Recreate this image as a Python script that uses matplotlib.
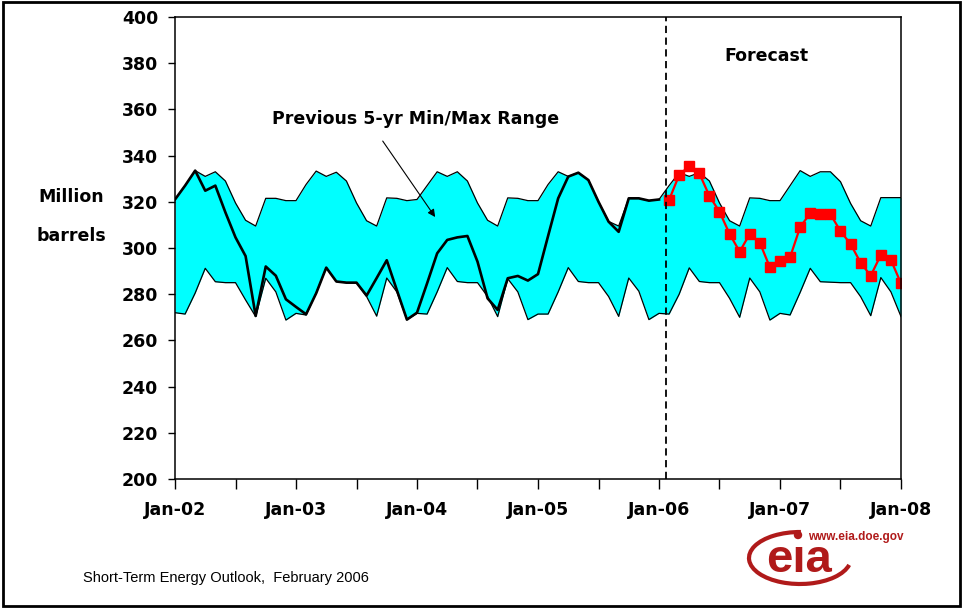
import numpy as np
import matplotlib
matplotlib.use("Agg")
import matplotlib.pyplot as plt
from matplotlib.patches import Arc, Circle, Rectangle

plt.rcParams['font.family'] = ['DejaVu Sans']

# month index 0 = Jan-02 ... 72 = Jan-08
months = np.arange(73)

# previous 5-yr max / min (million barrels)
range_max = [
    321, 327, 333.5, 331, 333, 329, 319.5, 312, 309.5, 321.5, 321.5, 320.5,
    320.5, 327.5, 333.3, 331, 332.8, 329, 319.5, 311.8, 309.5, 321.7, 321.5, 320.5,
    321, 327, 333, 331, 333, 329, 319.5, 312, 309.5, 321.7, 321.5, 320.5,
    320.5, 327.5, 333, 331, 332.6, 329.4, 320, 311.5, 309.5, 321.5, 321.5, 320.5,
    321, 327, 332.6, 331, 332.6, 329, 319.5, 311.8, 309.5, 321.7, 321.5, 320.5,
    320.5, 327, 333.5, 331, 333, 333, 328.7, 319.3, 311.8, 309.5, 321.8, 321.8,
    321.8,
]
range_min = [
    272, 271.4, 280.5, 291.2, 285.4, 285, 285, 277.5, 270.3, 286.9, 281, 268.8,
    271.7, 271, 280.5, 291.5, 285.5, 285, 285, 279, 270.5, 287, 281, 269,
    271.7, 271.4, 281, 291.5, 285.5, 285, 285, 279, 270.3, 286.7, 281, 269,
    271.4, 271.4, 281, 291.5, 285.5, 285, 285, 279, 270.4, 287, 281.3, 269,
    271.7, 271.4, 280, 291.4, 285.5, 285, 285, 278.2, 270, 287, 281, 268.8,
    271.7, 271, 280.8, 291.2, 285.4, 285.2, 285, 285, 278.9, 270.7, 287.2, 281,
    270.3,
]

# history Jan-02 .. Jan-06
history = [
    321, 327, 333.5, 324.8, 327, 315.4, 304.6, 296.5, 270.6, 292, 288, 277.8,
    274.5, 271.3, 280.4, 291.5, 285.5, 285, 285, 279.4, 287, 294.7, 281.8, 269,
    272, 284.7, 297.7, 303.5, 304.6, 305.2, 294.1, 278.2, 273.2, 286.9, 287.9, 285.9,
    288.7, 305.2, 321.5, 330.9, 332.6, 329.4, 320, 311.4, 307, 321.5, 321.5, 320.5,
    321,
]

# forecast Feb-06 .. Jan-08
forecast = [
    320.8, 331.6, 335.5, 332.3, 322.5, 315.7, 306.1, 298.4, 306.1, 302.3, 291.6,
    294.3, 296, 309.1, 315, 314.6, 314.6, 307.3, 301.7, 293.6, 288, 297, 294.8,
    284.7,
]

tick_labels = ['Jan-02', 'Jan-03', 'Jan-04', 'Jan-05', 'Jan-06', 'Jan-07', 'Jan-08']

fig = plt.figure(figsize=(9.65, 6.13), dpi=100)
ax = fig.add_axes([175 / 965, 1 - 479 / 613, 726 / 965, 462 / 613])

ax.fill_between(months, range_min, range_max, color='#00ffff', lw=0)
ax.plot(months, range_max, color='black', lw=0.9)
ax.plot(months, range_min, color='black', lw=0.9)

hist_x = months[:len(history)]
ax.plot(hist_x, history, color='black', lw=1.9)

fc_x = months[len(history):]
ax.plot(fc_x, forecast, color='#ff0000', lw=1.6, marker='s', ms=6.5,
        markeredgecolor='#ff0000')

ax.axvline(48.7, color='black', lw=1.3, ls=(0, (4, 2.5)))

ax.set_xlim(0, 72)
ax.set_ylim(200, 400)
ax.set_yticks(np.arange(200, 401, 20))
ax.set_xticks(np.arange(0, 73, 6))
xt = []
for m in range(0, 73, 6):
    xt.append(tick_labels[m // 12] if m % 12 == 0 else '')
ax.set_xticklabels(xt)
ax.tick_params(axis='y', length=5, width=1, pad=7, labelsize=12.5)
ax.tick_params(axis='x', length=7, width=1, pad=9, labelsize=12.5)
for lab in ax.get_xticklabels() + ax.get_yticklabels():
    lab.set_fontweight('bold')
for s in ax.spines.values():
    s.set_linewidth(1.1)

ax.text(0.815, 0.915, 'Forecast', transform=ax.transAxes, ha='center',
        va='center', fontsize=12.5, fontweight='bold')
ax.text(23.9, 355.8, 'Previous 5-yr Min/Max Range', ha='center', va='center',
        fontsize=12.5, fontweight='bold')
ax.annotate('', xy=(25.8, 313.4), xytext=(20.6, 346.3),
            arrowprops=dict(arrowstyle='-|>', color='black', lw=0.8,
                            mutation_scale=11, shrinkA=0, shrinkB=0))

fig.text(71 / 965, 1 - 197 / 613, 'Million', ha='center', va='center',
         fontsize=12.5, fontweight='bold')
fig.text(71 / 965, 1 - 236 / 613, 'barrels', ha='center', va='center',
         fontsize=12.5, fontweight='bold')
fig.text(83 / 965, 1 - 578 / 613, 'Short-Term Energy Outlook,  February 2006',
         ha='left', va='center', fontsize=10.5, family='Liberation Sans')

# eia logo
logo_red = '#b01a1a'
fig.text(808 / 965, 1 - 537 / 613, 'www.eia.doe.gov', ha='left', va='center',
         fontsize=8.5, fontweight='bold', color=logo_red, family='Liberation Sans')
fig.text(799 / 965, 1 - 572 / 613, 'e\u0131a', ha='center', va='baseline',
         fontsize=34, fontweight='bold', color=logo_red, family='Liberation Sans')
fig.add_artist(Arc((8.0, 0.55), 1.02, 0.52, theta1=88, theta2=352,
                   transform=fig.dpi_scale_trans, color=logo_red, lw=3))
fig.add_artist(Circle((7.98, 0.78), 0.035, transform=fig.dpi_scale_trans,
                      color=logo_red))

# frame around the slide
fig.add_artist(Rectangle((3 / 965, 7 / 613), 957 / 965, 604 / 613,
                         transform=fig.transFigure, fill=False,
                         edgecolor='black', lw=2))

fig.savefig('out.png', dpi=100)
